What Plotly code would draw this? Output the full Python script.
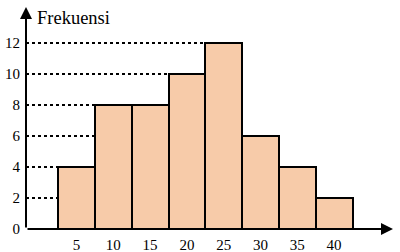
import plotly.graph_objects as go

# Data
classes = [5, 10, 15, 20, 25, 30, 35, 40]
freq = [4, 8, 8, 10, 12, 6, 4, 2]
y_ticks = [0, 2, 4, 6, 8, 10, 12]
y_title = "Frekuensi"

bar_w = 5
x_min, x_max = -1.86, 48.0
y_min, y_max = 0, 14.32
fill = "#F7CBA9"
serif = "Liberation Serif"

fig = go.Figure()
fig.add_trace(go.Bar(
    x=classes, y=freq, width=bar_w,
    marker=dict(color=fill, line=dict(color="black", width=2)),
    hoverinfo="skip",
))

# dotted guide lines from y-axis to the first bar reaching each tick level
shapes = []
for t in y_ticks[1:]:
    for c, f in zip(classes, freq):
        if f >= t:
            shapes.append(dict(type="line", xref="x", yref="y",
                               x0=x_min, x1=c - bar_w / 2, y0=t, y1=t,
                               line=dict(color="black", width=2, dash="dot"),
                               layer="below"))
            break

annotations = [
    dict(x=x_min, y=y_max, ax=x_min, ay=0, xref="x", yref="y", axref="x", ayref="y",
         showarrow=True, arrowhead=2, arrowsize=1.2, arrowwidth=2, arrowcolor="black",
         text="", standoff=0),
    dict(x=x_max, y=0, ax=x_min, ay=0, xref="x", yref="y", axref="x", ayref="y",
         showarrow=True, arrowhead=2, arrowsize=1.2, arrowwidth=2, arrowcolor="black",
         text="", standoff=0),
    dict(x=0.025, y=0.95, xref="paper", yref="paper", text=y_title, showarrow=False,
         xanchor="left", yanchor="middle", font=dict(family=serif, size=18.5, color="black")),
]

fig.update_layout(
    width=400, height=252,
    margin=dict(l=26, r=7, t=7, b=23, autoexpand=False),
    paper_bgcolor="white", plot_bgcolor="white",
    font=dict(family=serif, color="black"),
    showlegend=False,
    bargap=0,
    shapes=shapes,
    annotations=annotations,
    xaxis=dict(range=[x_min, x_max], tickvals=classes, ticktext=[str(c) for c in classes],
               showgrid=False, zeroline=False, showline=False, ticks="",
               ticklabelstandoff=5, automargin=False,
               tickfont=dict(family=serif, size=15, color="black")),
    yaxis=dict(range=[y_min, y_max], tickvals=y_ticks, showgrid=False, zeroline=False,
               showline=False, ticks="", ticklabelstandoff=5, automargin=False,
               tickfont=dict(family=serif, size=15, color="black")),
)

fig.write_html("out.html")
